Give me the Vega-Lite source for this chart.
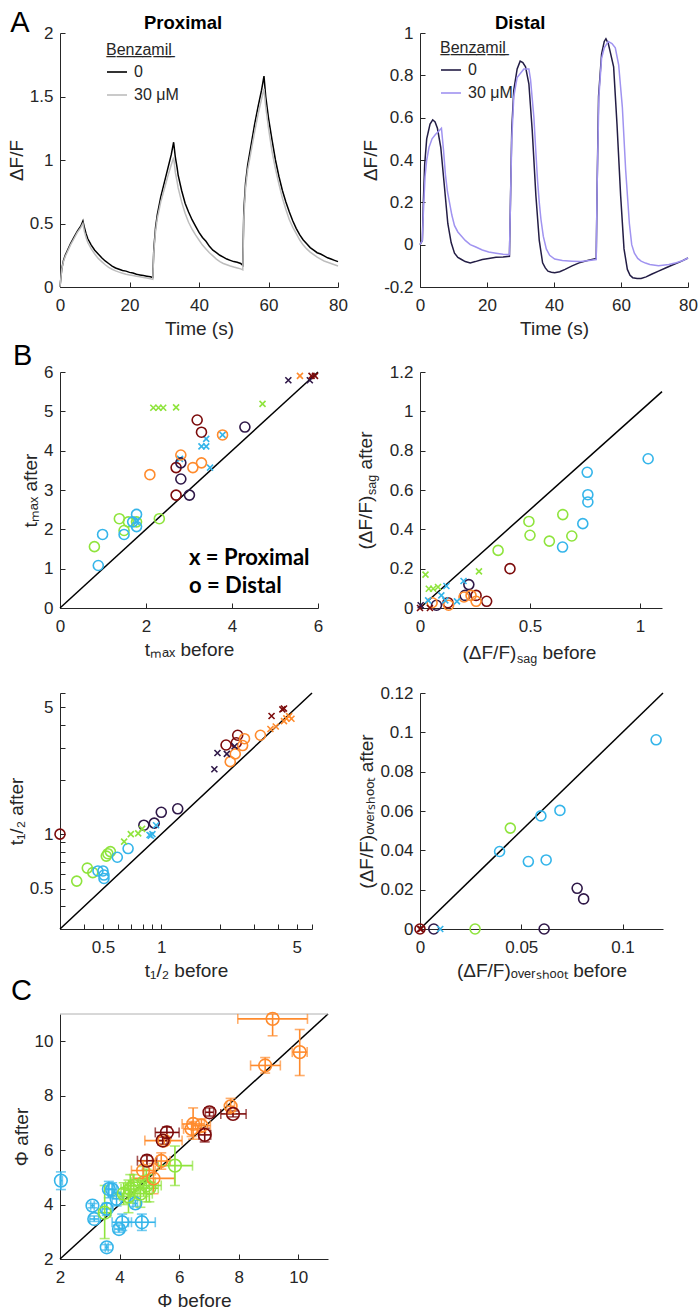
{
"$schema": "https://vega.github.io/schema/vega-lite/v6.json",
"padding": {"left": 7, "top": 8, "right": 0, "bottom": 0},
"title": {"text": "A", "anchor": "start", "frame": "bounds", "fontSize": 29, "fontWeight": "normal", "offset": -24, "dx": 3, "color": "#000000"},
"columns": 2,
"bounds": "flush",
"align": "each",
"spacing": {"row": 85, "column": 82},
"resolve": {"scale": {"color": "independent", "shape": "independent"}},
"config": {
  "font": "Liberation Sans",
  "view": {"stroke": null},
  "axis": {"grid": false, "domainColor": "#262626", "domainWidth": 1, "tickColor": "#262626", "tickSize": -5, "tickWidth": 1,
    "labelColor": "#262626", "labelFontSize": 17, "labelFont": "Liberation Sans", "titleColor": "#262626", "titleFontSize": 19,
    "titleFontWeight": "normal", "titleFont": "Liberation Sans", "labelFlush": false, "labelOverlap": false, "labelBound": false},
  "axisX": {"labelPadding": 15, "titlePadding": 6},
  "axisY": {"labelPadding": 12, "titlePadding": 3},
  "legend": {"labelFont": "Liberation Sans", "titleFont": "Liberation Sans"},
  "title": {"font": "Liberation Sans", "fontSize": 18.5, "fontWeight": "bold", "color": "#000000"}
},
"datasets": {
  "prox": [
    {"t":0,"v":0,"c":"0"},{"t":0.5,"v":0.14,"c":"0"},{"t":1,"v":0.21,"c":"0"},{"t":1.5,"v":0.25,"c":"0"},{"t":2,"v":0.28,"c":"0"},{"t":3,"v":0.34,"c":"0"},{"t":4,"v":0.39,"c":"0"},{"t":5,"v":0.44,"c":"0"},{"t":6,"v":0.48,"c":"0"},{"t":6.6,"v":0.52,"c":"0"},{"t":7,"v":0.47,"c":"0"},{"t":7.5,"v":0.42,"c":"0"},{"t":8,"v":0.38,"c":"0"},{"t":9,"v":0.33,"c":"0"},{"t":10,"v":0.29,"c":"0"},{"t":11,"v":0.26,"c":"0"},{"t":12,"v":0.23,"c":"0"},{"t":13,"v":0.205,"c":"0"},{"t":14,"v":0.185,"c":"0"},{"t":15,"v":0.165,"c":"0"},{"t":16,"v":0.15,"c":"0"},{"t":17,"v":0.14,"c":"0"},{"t":18,"v":0.13,"c":"0"},{"t":19,"v":0.125,"c":"0"},{"t":20,"v":0.115,"c":"0"},{"t":21,"v":0.11,"c":"0"},{"t":22,"v":0.1,"c":"0"},{"t":23,"v":0.095,"c":"0"},{"t":24,"v":0.09,"c":"0"},{"t":25,"v":0.085,"c":"0"},{"t":26,"v":0.08,"c":"0"},{"t":26.7,"v":0.075,"c":"0"},{"t":27,"v":0.3,"c":"0"},{"t":27.5,"v":0.47,"c":"0"},{"t":28,"v":0.57,"c":"0"},{"t":29,"v":0.71,"c":"0"},{"t":30,"v":0.82,"c":"0"},{"t":31,"v":0.93,"c":"0"},{"t":32,"v":1.04,"c":"0"},{"t":32.7,"v":1.14,"c":"0"},{"t":33.2,"v":1.02,"c":"0"},{"t":33.7,"v":0.94,"c":"0"},{"t":34,"v":0.88,"c":"0"},{"t":35,"v":0.76,"c":"0"},{"t":36,"v":0.66,"c":"0"},{"t":37,"v":0.59,"c":"0"},{"t":38,"v":0.53,"c":"0"},{"t":39,"v":0.48,"c":"0"},{"t":40,"v":0.43,"c":"0"},{"t":41,"v":0.39,"c":"0"},{"t":42,"v":0.36,"c":"0"},{"t":43,"v":0.32,"c":"0"},{"t":44,"v":0.29,"c":"0"},{"t":45,"v":0.27,"c":"0"},{"t":46,"v":0.25,"c":"0"},{"t":47,"v":0.235,"c":"0"},{"t":48,"v":0.22,"c":"0"},{"t":49,"v":0.21,"c":"0"},{"t":50,"v":0.2,"c":"0"},{"t":51,"v":0.195,"c":"0"},{"t":52,"v":0.185,"c":"0"},{"t":52.6,"v":0.17,"c":"0"},{"t":52.9,"v":0.6,"c":"0"},{"t":53.4,"v":0.82,"c":"0"},{"t":54,"v":0.96,"c":"0"},{"t":55,"v":1.12,"c":"0"},{"t":56,"v":1.28,"c":"0"},{"t":57,"v":1.42,"c":"0"},{"t":58,"v":1.55,"c":"0"},{"t":58.7,"v":1.66,"c":"0"},{"t":59.2,"v":1.5,"c":"0"},{"t":60,"v":1.33,"c":"0"},{"t":61,"v":1.16,"c":"0"},{"t":62,"v":1.0,"c":"0"},{"t":63,"v":0.87,"c":"0"},{"t":64,"v":0.76,"c":"0"},{"t":65,"v":0.67,"c":"0"},{"t":66,"v":0.59,"c":"0"},{"t":67,"v":0.52,"c":"0"},{"t":68,"v":0.46,"c":"0"},{"t":69,"v":0.41,"c":"0"},{"t":70,"v":0.37,"c":"0"},{"t":71,"v":0.34,"c":"0"},{"t":72,"v":0.31,"c":"0"},{"t":73,"v":0.29,"c":"0"},{"t":74,"v":0.27,"c":"0"},{"t":75,"v":0.26,"c":"0"},{"t":76,"v":0.245,"c":"0"},{"t":77,"v":0.23,"c":"0"},{"t":78,"v":0.22,"c":"0"},{"t":79,"v":0.21,"c":"0"},{"t":80,"v":0.2,"c":"0"},
    {"t":0,"v":0,"c":"30 μM"},{"t":0.5,"v":0.14,"c":"30 μM"},{"t":1,"v":0.2,"c":"30 μM"},{"t":1.5,"v":0.24,"c":"30 μM"},{"t":2,"v":0.27,"c":"30 μM"},{"t":3,"v":0.33,"c":"30 μM"},{"t":4,"v":0.38,"c":"30 μM"},{"t":5,"v":0.43,"c":"30 μM"},{"t":6,"v":0.47,"c":"30 μM"},{"t":6.6,"v":0.5,"c":"30 μM"},{"t":7,"v":0.44,"c":"30 μM"},{"t":7.5,"v":0.39,"c":"30 μM"},{"t":8,"v":0.35,"c":"30 μM"},{"t":9,"v":0.3,"c":"30 μM"},{"t":10,"v":0.26,"c":"30 μM"},{"t":11,"v":0.225,"c":"30 μM"},{"t":12,"v":0.2,"c":"30 μM"},{"t":13,"v":0.175,"c":"30 μM"},{"t":14,"v":0.155,"c":"30 μM"},{"t":15,"v":0.14,"c":"30 μM"},{"t":16,"v":0.127,"c":"30 μM"},{"t":17,"v":0.117,"c":"30 μM"},{"t":18,"v":0.108,"c":"30 μM"},{"t":19,"v":0.1,"c":"30 μM"},{"t":20,"v":0.095,"c":"30 μM"},{"t":21,"v":0.09,"c":"30 μM"},{"t":22,"v":0.085,"c":"30 μM"},{"t":23,"v":0.08,"c":"30 μM"},{"t":24,"v":0.075,"c":"30 μM"},{"t":25,"v":0.07,"c":"30 μM"},{"t":26,"v":0.065,"c":"30 μM"},{"t":26.7,"v":0.06,"c":"30 μM"},{"t":27,"v":0.28,"c":"30 μM"},{"t":27.5,"v":0.44,"c":"30 μM"},{"t":28,"v":0.54,"c":"30 μM"},{"t":29,"v":0.67,"c":"30 μM"},{"t":30,"v":0.77,"c":"30 μM"},{"t":31,"v":0.87,"c":"30 μM"},{"t":32,"v":0.96,"c":"30 μM"},{"t":32.7,"v":1.02,"c":"30 μM"},{"t":33.2,"v":0.9,"c":"30 μM"},{"t":33.7,"v":0.83,"c":"30 μM"},{"t":34,"v":0.78,"c":"30 μM"},{"t":35,"v":0.67,"c":"30 μM"},{"t":36,"v":0.58,"c":"30 μM"},{"t":37,"v":0.51,"c":"30 μM"},{"t":38,"v":0.455,"c":"30 μM"},{"t":39,"v":0.41,"c":"30 μM"},{"t":40,"v":0.37,"c":"30 μM"},{"t":41,"v":0.33,"c":"30 μM"},{"t":42,"v":0.3,"c":"30 μM"},{"t":43,"v":0.27,"c":"30 μM"},{"t":44,"v":0.245,"c":"30 μM"},{"t":45,"v":0.22,"c":"30 μM"},{"t":46,"v":0.2,"c":"30 μM"},{"t":47,"v":0.185,"c":"30 μM"},{"t":48,"v":0.175,"c":"30 μM"},{"t":49,"v":0.165,"c":"30 μM"},{"t":50,"v":0.157,"c":"30 μM"},{"t":51,"v":0.15,"c":"30 μM"},{"t":52,"v":0.143,"c":"30 μM"},{"t":52.6,"v":0.135,"c":"30 μM"},{"t":52.9,"v":0.55,"c":"30 μM"},{"t":53.4,"v":0.78,"c":"30 μM"},{"t":54,"v":0.92,"c":"30 μM"},{"t":55,"v":1.07,"c":"30 μM"},{"t":56,"v":1.22,"c":"30 μM"},{"t":57,"v":1.36,"c":"30 μM"},{"t":58,"v":1.48,"c":"30 μM"},{"t":58.7,"v":1.56,"c":"30 μM"},{"t":59.2,"v":1.42,"c":"30 μM"},{"t":60,"v":1.25,"c":"30 μM"},{"t":61,"v":1.07,"c":"30 μM"},{"t":62,"v":0.93,"c":"30 μM"},{"t":63,"v":0.81,"c":"30 μM"},{"t":64,"v":0.7,"c":"30 μM"},{"t":65,"v":0.61,"c":"30 μM"},{"t":66,"v":0.53,"c":"30 μM"},{"t":67,"v":0.47,"c":"30 μM"},{"t":68,"v":0.42,"c":"30 μM"},{"t":69,"v":0.37,"c":"30 μM"},{"t":70,"v":0.33,"c":"30 μM"},{"t":71,"v":0.3,"c":"30 μM"},{"t":72,"v":0.275,"c":"30 μM"},{"t":73,"v":0.255,"c":"30 μM"},{"t":74,"v":0.235,"c":"30 μM"},{"t":75,"v":0.22,"c":"30 μM"},{"t":76,"v":0.205,"c":"30 μM"},{"t":77,"v":0.195,"c":"30 μM"},{"t":78,"v":0.185,"c":"30 μM"},{"t":79,"v":0.175,"c":"30 μM"},{"t":80,"v":0.165,"c":"30 μM"}
  ],
  "dist": [
    {"t":0,"v":0,"c":"0"},{"t":0.7,"v":0.02,"c":"0"},{"t":1,"v":0.2,"c":"0"},{"t":1.4,"v":0.38,"c":"0"},{"t":2,"v":0.5,"c":"0"},{"t":3,"v":0.57,"c":"0"},{"t":3.8,"v":0.59,"c":"0"},{"t":4.5,"v":0.58,"c":"0"},{"t":5.2,"v":0.55,"c":"0"},{"t":6.2,"v":0.46,"c":"0"},{"t":7.2,"v":0.29,"c":"0"},{"t":8.3,"v":0.1,"c":"0"},{"t":9.3,"v":0.01,"c":"0"},{"t":10.3,"v":-0.04,"c":"0"},{"t":11.3,"v":-0.06,"c":"0"},{"t":12.4,"v":-0.07,"c":"0"},{"t":13.5,"v":-0.08,"c":"0"},{"t":15,"v":-0.086,"c":"0"},{"t":16.5,"v":-0.08,"c":"0"},{"t":18.6,"v":-0.07,"c":"0"},{"t":20.5,"v":-0.065,"c":"0"},{"t":22.7,"v":-0.06,"c":"0"},{"t":24.8,"v":-0.058,"c":"0"},{"t":26.7,"v":-0.055,"c":"0"},{"t":27,"v":0.2,"c":"0"},{"t":27.4,"v":0.55,"c":"0"},{"t":28,"v":0.73,"c":"0"},{"t":29,"v":0.83,"c":"0"},{"t":29.9,"v":0.867,"c":"0"},{"t":30.7,"v":0.86,"c":"0"},{"t":31.5,"v":0.84,"c":"0"},{"t":32.5,"v":0.76,"c":"0"},{"t":33.5,"v":0.54,"c":"0"},{"t":34.6,"v":0.23,"c":"0"},{"t":35.6,"v":0.02,"c":"0"},{"t":36.6,"v":-0.086,"c":"0"},{"t":37.4,"v":-0.11,"c":"0"},{"t":38.2,"v":-0.125,"c":"0"},{"t":39.2,"v":-0.13,"c":"0"},{"t":40.2,"v":-0.133,"c":"0"},{"t":41.7,"v":-0.128,"c":"0"},{"t":43.3,"v":-0.117,"c":"0"},{"t":45.4,"v":-0.1,"c":"0"},{"t":47.5,"v":-0.086,"c":"0"},{"t":50,"v":-0.075,"c":"0"},{"t":52.6,"v":-0.065,"c":"0"},{"t":52.9,"v":0.3,"c":"0"},{"t":53.3,"v":0.7,"c":"0"},{"t":54.2,"v":0.9,"c":"0"},{"t":55,"v":0.96,"c":"0"},{"t":55.5,"v":0.973,"c":"0"},{"t":56.2,"v":0.95,"c":"0"},{"t":56.8,"v":0.91,"c":"0"},{"t":57.8,"v":0.84,"c":"0"},{"t":58.8,"v":0.57,"c":"0"},{"t":59.9,"v":0.23,"c":"0"},{"t":60.9,"v":-0.02,"c":"0"},{"t":61.9,"v":-0.117,"c":"0"},{"t":62.7,"v":-0.145,"c":"0"},{"t":63.5,"v":-0.156,"c":"0"},{"t":64.8,"v":-0.16,"c":"0"},{"t":66,"v":-0.16,"c":"0"},{"t":67.5,"v":-0.152,"c":"0"},{"t":69.1,"v":-0.14,"c":"0"},{"t":71.2,"v":-0.125,"c":"0"},{"t":73.3,"v":-0.11,"c":"0"},{"t":75.5,"v":-0.095,"c":"0"},{"t":77.8,"v":-0.08,"c":"0"},{"t":80,"v":-0.063,"c":"0"},
    {"t":0,"v":0,"c":"30 μM"},{"t":0.7,"v":0.02,"c":"30 μM"},{"t":1,"v":0.15,"c":"30 μM"},{"t":1.5,"v":0.32,"c":"30 μM"},{"t":2,"v":0.4,"c":"30 μM"},{"t":2.7,"v":0.46,"c":"30 μM"},{"t":3.6,"v":0.5,"c":"30 μM"},{"t":4.6,"v":0.52,"c":"30 μM"},{"t":5.5,"v":0.535,"c":"30 μM"},{"t":6.4,"v":0.55,"c":"30 μM"},{"t":7,"v":0.45,"c":"30 μM"},{"t":7.6,"v":0.33,"c":"30 μM"},{"t":8.2,"v":0.25,"c":"30 μM"},{"t":8.8,"v":0.2,"c":"30 μM"},{"t":9.5,"v":0.14,"c":"30 μM"},{"t":10.3,"v":0.09,"c":"30 μM"},{"t":11.3,"v":0.06,"c":"30 μM"},{"t":12.4,"v":0.04,"c":"30 μM"},{"t":13.5,"v":0.02,"c":"30 μM"},{"t":15,"v":0.0,"c":"30 μM"},{"t":16.5,"v":-0.01,"c":"30 μM"},{"t":18.6,"v":-0.025,"c":"30 μM"},{"t":20.5,"v":-0.035,"c":"30 μM"},{"t":22.7,"v":-0.04,"c":"30 μM"},{"t":24.8,"v":-0.045,"c":"30 μM"},{"t":26.7,"v":-0.047,"c":"30 μM"},{"t":27,"v":0.2,"c":"30 μM"},{"t":27.4,"v":0.5,"c":"30 μM"},{"t":28,"v":0.7,"c":"30 μM"},{"t":29,"v":0.79,"c":"30 μM"},{"t":30,"v":0.81,"c":"30 μM"},{"t":31,"v":0.83,"c":"30 μM"},{"t":32.5,"v":0.83,"c":"30 μM"},{"t":33,"v":0.78,"c":"30 μM"},{"t":34,"v":0.6,"c":"30 μM"},{"t":34.5,"v":0.46,"c":"30 μM"},{"t":35.1,"v":0.3,"c":"30 μM"},{"t":35.6,"v":0.2,"c":"30 μM"},{"t":36.1,"v":0.12,"c":"30 μM"},{"t":36.8,"v":0.04,"c":"30 μM"},{"t":37.7,"v":-0.02,"c":"30 μM"},{"t":38.7,"v":-0.05,"c":"30 μM"},{"t":40.2,"v":-0.068,"c":"30 μM"},{"t":42.5,"v":-0.075,"c":"30 μM"},{"t":45.4,"v":-0.078,"c":"30 μM"},{"t":48,"v":-0.08,"c":"30 μM"},{"t":50.5,"v":-0.075,"c":"30 μM"},{"t":52.6,"v":-0.07,"c":"30 μM"},{"t":52.9,"v":0.3,"c":"30 μM"},{"t":53.4,"v":0.7,"c":"30 μM"},{"t":54.2,"v":0.88,"c":"30 μM"},{"t":55,"v":0.93,"c":"30 μM"},{"t":56.2,"v":0.96,"c":"30 μM"},{"t":57.3,"v":0.95,"c":"30 μM"},{"t":58.3,"v":0.93,"c":"30 μM"},{"t":59.3,"v":0.85,"c":"30 μM"},{"t":60.4,"v":0.65,"c":"30 μM"},{"t":61.4,"v":0.35,"c":"30 μM"},{"t":62.5,"v":0.1,"c":"30 μM"},{"t":63.2,"v":0.0,"c":"30 μM"},{"t":64,"v":-0.04,"c":"30 μM"},{"t":65,"v":-0.065,"c":"30 μM"},{"t":66,"v":-0.078,"c":"30 μM"},{"t":67.3,"v":-0.087,"c":"30 μM"},{"t":68.6,"v":-0.094,"c":"30 μM"},{"t":71.2,"v":-0.1,"c":"30 μM"},{"t":74.3,"v":-0.094,"c":"30 μM"},{"t":76.5,"v":-0.085,"c":"30 μM"},{"t":78.5,"v":-0.075,"c":"30 μM"},{"t":80,"v":-0.063,"c":"30 μM"}
  ],
  "tmax": [
    {"r":"Proximal","k":"c1","b":2.17,"a":5.09},{"r":"Proximal","k":"c1","b":2.29,"a":5.09},{"r":"Proximal","k":"c1","b":2.4,"a":5.09},{"r":"Proximal","k":"c1","b":2.7,"a":5.1},{"r":"Proximal","k":"c1","b":4.71,"a":5.19},
    {"r":"Proximal","k":"c5","b":5.31,"a":5.79},{"r":"Proximal","k":"c5","b":5.81,"a":5.79},{"r":"Proximal","k":"c3","b":5.58,"a":5.9},{"r":"Proximal","k":"c4","b":5.85,"a":5.9},{"r":"Proximal","k":"c4","b":5.93,"a":5.9},
    {"r":"Proximal","k":"c2","b":2.79,"a":3.79},{"r":"Proximal","k":"c2","b":3.29,"a":4.11},{"r":"Proximal","k":"c2","b":3.4,"a":4.11},{"r":"Proximal","k":"c2","b":3.4,"a":4.3},{"r":"Proximal","k":"c2","b":3.49,"a":3.57},{"r":"Proximal","k":"c2","b":3.78,"a":4.4},{"r":"Proximal","k":"c2","b":1.78,"a":2.19},
    {"r":"Distal","k":"c4","b":3.19,"a":4.78},{"r":"Distal","k":"c4","b":3.29,"a":4.47},{"r":"Distal","k":"c4","b":2.7,"a":3.57},{"r":"Distal","k":"c4","b":2.7,"a":2.87},
    {"r":"Distal","k":"c5","b":2.81,"a":3.69},{"r":"Distal","k":"c5","b":2.81,"a":3.28},{"r":"Distal","k":"c5","b":3.01,"a":2.87},{"r":"Distal","k":"c5","b":4.3,"a":4.6},
    {"r":"Distal","k":"c3","b":2.09,"a":3.39},{"r":"Distal","k":"c3","b":2.81,"a":3.89},{"r":"Distal","k":"c3","b":3.09,"a":3.57},{"r":"Distal","k":"c3","b":3.29,"a":3.69},{"r":"Distal","k":"c3","b":3.78,"a":4.4},
    {"r":"Distal","k":"c1","b":0.8,"a":1.56},{"r":"Distal","k":"c1","b":1.38,"a":2.27},{"r":"Distal","k":"c1","b":1.49,"a":1.97},{"r":"Distal","k":"c1","b":1.59,"a":2.19},{"r":"Distal","k":"c1","b":1.78,"a":2.19},{"r":"Distal","k":"c1","b":2.31,"a":2.27},
    {"r":"Distal","k":"c2","b":0.89,"a":1.08},{"r":"Distal","k":"c2","b":0.99,"a":1.87},{"r":"Distal","k":"c2","b":1.49,"a":1.87},{"r":"Distal","k":"c2","b":1.69,"a":2.19},{"r":"Distal","k":"c2","b":1.78,"a":2.38},{"r":"Distal","k":"c2","b":1.78,"a":2.07}
  ],
  "sag": [
    {"r":"Distal","k":"c2","b":1.037,"a":0.759},{"r":"Distal","k":"c2","b":0.76,"a":0.69},{"r":"Distal","k":"c2","b":0.763,"a":0.576},{"r":"Distal","k":"c2","b":0.763,"a":0.539},{"r":"Distal","k":"c2","b":0.74,"a":0.429},{"r":"Distal","k":"c2","b":0.648,"a":0.31},
    {"r":"Distal","k":"c1","b":0.495,"a":0.44},{"r":"Distal","k":"c1","b":0.5,"a":0.37},{"r":"Distal","k":"c1","b":0.588,"a":0.34},{"r":"Distal","k":"c1","b":0.649,"a":0.475},{"r":"Distal","k":"c1","b":0.69,"a":0.366},{"r":"Distal","k":"c1","b":0.355,"a":0.293},
    {"r":"Distal","k":"c4","b":0.409,"a":0.2},{"r":"Distal","k":"c4","b":0.303,"a":0.034},{"r":"Distal","k":"c4","b":0.255,"a":0.064},{"r":"Distal","k":"c4","b":0.127,"a":0.027},
    {"r":"Distal","k":"c5","b":0.222,"a":0.119},{"r":"Distal","k":"c5","b":0.205,"a":0.064},{"r":"Distal","k":"c5","b":0.075,"a":0.014},
    {"r":"Distal","k":"c3","b":0.255,"a":0.034},{"r":"Distal","k":"c3","b":0.232,"a":0.064},{"r":"Distal","k":"c3","b":0.2,"a":0.056},{"r":"Distal","k":"c3","b":0.13,"a":0.014},{"r":"Distal","k":"c3","b":0.055,"a":0.027},
    {"r":"Proximal","k":"c1","b":0.025,"a":0.17},{"r":"Proximal","k":"c1","b":0.04,"a":0.098},{"r":"Proximal","k":"c1","b":0.06,"a":0.098},{"r":"Proximal","k":"c1","b":0.082,"a":0.107},{"r":"Proximal","k":"c1","b":0.268,"a":0.186},
    {"r":"Proximal","k":"c2","b":0.12,"a":0.112},{"r":"Proximal","k":"c2","b":0.198,"a":0.137},{"r":"Proximal","k":"c2","b":0.097,"a":0.064},{"r":"Proximal","k":"c2","b":0.168,"a":0.034},{"r":"Proximal","k":"c2","b":0.037,"a":0.039},{"r":"Proximal","k":"c2","b":0.115,"a":0.039},
    {"r":"Proximal","k":"c4","b":0,"a":0},{"r":"Proximal","k":"c4","b":0.045,"a":0},{"r":"Proximal","k":"c5","b":0.003,"a":0.014}
  ],
  "thalf": [
    {"r":"Distal","k":"c4","b":0.3,"a":1.0},{"r":"Distal","k":"c4","b":2.16,"a":3.1},{"r":"Distal","k":"c4","b":2.44,"a":3.19},{"r":"Distal","k":"c4","b":2.48,"a":3.51},
    {"r":"Distal","k":"c1","b":0.366,"a":0.551},{"r":"Distal","k":"c1","b":0.415,"a":0.65},{"r":"Distal","k":"c1","b":0.443,"a":0.614},{"r":"Distal","k":"c1","b":0.52,"a":0.757},{"r":"Distal","k":"c1","b":0.546,"a":0.801},{"r":"Distal","k":"c1","b":0.53,"a":0.78},
    {"r":"Distal","k":"c2","b":0.471,"a":0.627},{"r":"Distal","k":"c2","b":0.5,"a":0.627},{"r":"Distal","k":"c2","b":0.506,"a":0.595},{"r":"Distal","k":"c2","b":0.506,"a":0.57},{"r":"Distal","k":"c2","b":0.593,"a":0.746},{"r":"Distal","k":"c2","b":0.674,"a":0.833},
    {"r":"Distal","k":"c5","b":0.813,"a":1.12},{"r":"Distal","k":"c5","b":0.92,"a":1.15},{"r":"Distal","k":"c5","b":1.0,"a":1.32},{"r":"Distal","k":"c5","b":1.216,"a":1.38},
    {"r":"Distal","k":"c3","b":2.27,"a":2.51},{"r":"Distal","k":"c3","b":2.41,"a":2.77},{"r":"Distal","k":"c3","b":2.63,"a":3.08},{"r":"Distal","k":"c3","b":2.69,"a":3.36},{"r":"Distal","k":"c3","b":3.25,"a":3.51},
    {"r":"Proximal","k":"c1","b":0.643,"a":0.909},{"r":"Proximal","k":"c1","b":0.696,"a":1.0},{"r":"Proximal","k":"c1","b":0.76,"a":1.01},{"r":"Proximal","k":"c1","b":0.796,"a":1.07},
    {"r":"Proximal","k":"c2","b":0.883,"a":0.98},{"r":"Proximal","k":"c2","b":0.9,"a":1.0},{"r":"Proximal","k":"c2","b":0.94,"a":1.12},{"r":"Proximal","k":"c2","b":0.87,"a":0.99},
    {"r":"Proximal","k":"c5","b":1.88,"a":2.28},{"r":"Proximal","k":"c5","b":1.95,"a":2.8},{"r":"Proximal","k":"c5","b":2.18,"a":2.77},{"r":"Proximal","k":"c5","b":2.39,"a":3.05},
    {"r":"Proximal","k":"c4","b":3.71,"a":4.48},{"r":"Proximal","k":"c4","b":4.22,"a":4.87},{"r":"Proximal","k":"c4","b":4.3,"a":4.93},
    {"r":"Proximal","k":"c3","b":3.66,"a":3.8},{"r":"Proximal","k":"c3","b":3.9,"a":3.92},{"r":"Proximal","k":"c3","b":4.3,"a":4.2},{"r":"Proximal","k":"c3","b":4.42,"a":4.35},{"r":"Proximal","k":"c3","b":4.57,"a":4.47},{"r":"Proximal","k":"c3","b":4.7,"a":4.33}
  ],
  "over": [
    {"r":"Distal","k":"c2","b":0.1166,"a":0.0962},{"r":"Distal","k":"c2","b":0.0691,"a":0.0603},{"r":"Distal","k":"c2","b":0.0597,"a":0.0575},{"r":"Distal","k":"c2","b":0.0393,"a":0.0394},{"r":"Distal","k":"c2","b":0.0535,"a":0.0343},{"r":"Distal","k":"c2","b":0.0623,"a":0.0351},
    {"r":"Distal","k":"c1","b":0.0446,"a":0.0513},{"r":"Distal","k":"c1","b":0.0272,"a":0},
    {"r":"Distal","k":"c5","b":0.0776,"a":0.0207},{"r":"Distal","k":"c5","b":0.0808,"a":0.0153},{"r":"Distal","k":"c5","b":0.0613,"a":0},{"r":"Distal","k":"c5","b":0.0068,"a":0},
    {"r":"Proximal","k":"c2","b":0.01,"a":0},
    {"r":"Distal","k":"c4","b":0,"a":0},{"r":"Proximal","k":"c4","b":0,"a":0},{"r":"Proximal","k":"c4","b":0.0005,"a":0}
  ],
  "phi": [
    {"k":"c2","x":2.03,"y":4.88,"xlo":2.0,"xhi":2.08,"ylo":4.55,"yhi":5.2},
    {"k":"c2","x":3.09,"y":3.96,"xlo":3.03,"xhi":3.15,"ylo":3.88,"yhi":4.04},
    {"k":"c2","x":3.15,"y":3.47,"xlo":3.0,"xhi":3.3,"ylo":3.38,"yhi":3.58},
    {"k":"c2","x":3.57,"y":3.84,"xlo":3.42,"xhi":3.72,"ylo":3.6,"yhi":4.05},
    {"k":"c2","x":3.64,"y":4.57,"xlo":3.5,"xhi":3.8,"ylo":4.25,"yhi":4.85},
    {"k":"c2","x":3.9,"y":4.21,"xlo":3.75,"xhi":4.05,"ylo":3.95,"yhi":4.45},
    {"k":"c2","x":4.53,"y":4.04,"xlo":4.45,"xhi":4.6,"ylo":3.93,"yhi":4.16},
    {"k":"c2","x":4.09,"y":3.35,"xlo":3.75,"xhi":4.4,"ylo":3.05,"yhi":3.65},
    {"k":"c2","x":3.98,"y":3.1,"xlo":3.83,"xhi":4.13,"ylo":2.98,"yhi":3.25},
    {"k":"c2","x":4.75,"y":3.35,"xlo":4.3,"xhi":5.2,"ylo":3.05,"yhi":3.65},
    {"k":"c2","x":3.57,"y":2.43,"xlo":3.52,"xhi":3.62,"ylo":2.33,"yhi":2.53},
    {"k":"c2","x":3.75,"y":4.55,"xlo":3.6,"xhi":3.9,"ylo":4.3,"yhi":4.8},
    {"k":"c1","x":5.86,"y":5.43,"xlo":5.3,"xhi":6.45,"ylo":4.7,"yhi":6.15},
    {"k":"c1","x":4.36,"y":4.57,"xlo":4.05,"xhi":4.65,"ylo":4.05,"yhi":5.1},
    {"k":"c1","x":4.7,"y":4.4,"xlo":4.3,"xhi":5.1,"ylo":3.9,"yhi":4.9},
    {"k":"c1","x":4.14,"y":4.4,"xlo":3.8,"xhi":4.5,"ylo":4.0,"yhi":4.8},
    {"k":"c1","x":4.48,"y":4.69,"xlo":4.2,"xhi":4.8,"ylo":4.3,"yhi":5.1},
    {"k":"c1","x":4.81,"y":4.82,"xlo":4.4,"xhi":5.2,"ylo":4.3,"yhi":5.4},
    {"k":"c1","x":3.5,"y":3.7,"xlo":3.3,"xhi":3.7,"ylo":2.75,"yhi":4.7},
    {"k":"c1","x":5.0,"y":4.6,"xlo":4.7,"xhi":5.3,"ylo":4.1,"yhi":5.1},
    {"k":"c1","x":4.3,"y":4.3,"xlo":4.0,"xhi":4.6,"ylo":3.7,"yhi":4.9},
    {"k":"c1","x":4.9,"y":4.7,"xlo":4.4,"xhi":5.4,"ylo":4.1,"yhi":5.3},
    {"k":"c3","x":9.14,"y":10.82,"xlo":7.97,"xhi":10.31,"ylo":10.2,"yhi":11.0},
    {"k":"c3","x":10.05,"y":9.6,"xlo":9.8,"xhi":10.3,"ylo":8.74,"yhi":10.43},
    {"k":"c3","x":8.89,"y":9.11,"xlo":8.4,"xhi":9.4,"ylo":8.83,"yhi":9.4},
    {"k":"c3","x":7.73,"y":7.61,"xlo":7.6,"xhi":7.86,"ylo":7.35,"yhi":7.9},
    {"k":"c3","x":6.47,"y":6.96,"xlo":6.1,"xhi":6.85,"ylo":6.4,"yhi":7.55},
    {"k":"c3","x":6.42,"y":6.78,"xlo":6.15,"xhi":6.7,"ylo":6.5,"yhi":7.05},
    {"k":"c3","x":6.75,"y":6.9,"xlo":6.45,"xhi":7.05,"ylo":6.65,"yhi":7.15},
    {"k":"c3","x":5.5,"y":6.35,"xlo":4.85,"xhi":6.1,"ylo":6.2,"yhi":6.5},
    {"k":"c3","x":5.4,"y":5.6,"xlo":5.1,"xhi":5.7,"ylo":5.3,"yhi":5.9},
    {"k":"c3","x":5.14,"y":4.96,"xlo":4.45,"xhi":5.85,"ylo":4.4,"yhi":5.5},
    {"k":"c3","x":4.79,"y":5.25,"xlo":4.4,"xhi":5.2,"ylo":4.9,"yhi":5.6},
    {"k":"c4","x":7.02,"y":7.39,"xlo":6.88,"xhi":7.16,"ylo":7.25,"yhi":7.55},
    {"k":"c4","x":6.86,"y":6.56,"xlo":6.66,"xhi":7.06,"ylo":6.3,"yhi":6.8},
    {"k":"c4","x":5.59,"y":6.65,"xlo":5.2,"xhi":6.0,"ylo":6.45,"yhi":6.85},
    {"k":"c4","x":5.45,"y":6.35,"xlo":5.3,"xhi":5.6,"ylo":6.22,"yhi":6.48},
    {"k":"c4","x":4.92,"y":5.61,"xlo":4.6,"xhi":5.25,"ylo":5.42,"yhi":5.8},
    {"k":"c4","x":7.81,"y":7.33,"xlo":7.4,"xhi":8.25,"ylo":7.22,"yhi":7.44}
  ]
},
"concat": [
  {
    "width": 278, "height": 254,
    "title": {"text": "Proximal", "anchor": "start", "frame": "group", "dx": 84, "offset": -8},
    "data": {"name": "prox"},
    "mark": {"type": "line", "strokeWidth": 1.5},
    "encoding": {
      "x": {"field": "t", "type": "quantitative", "scale": {"domain": [0, 80], "nice": false}, "axis": {"title": "Time (s)", "values": [0, 20, 40, 60, 80], "labelExpr": "'' + datum.value"}},
      "y": {"field": "v", "type": "quantitative", "scale": {"domain": [0, 2], "nice": false}, "axis": {"title": "ΔF/F", "values": [0, 0.5, 1, 1.5, 2], "labelExpr": "'' + datum.value"}},
      "color": {"field": "c", "type": "nominal", "scale": {"domain": ["0", "30 μM"], "range": ["#000000", "#bdbdbd"]},
        "legend": {"title": "B\u0332e\u0332n\u0332z\u0332a\u0332m\u0332i\u0332l\u0332", "orient": "none", "legendX": 46, "legendY": 9, "symbolType": "stroke", "symbolSize": 400, "symbolStrokeWidth": 1.6, "labelFontSize": 16, "titleFontSize": 16, "titleFontWeight": "normal", "titleColor": "#262626", "labelColor": "#262626", "titlePadding": 3, "rowPadding": 4, "labelOffset": 6, "padding": 0}}
    }
  },
  {
    "width": 268, "height": 254,
    "title": {"text": "Distal", "anchor": "start", "frame": "group", "dx": 75, "offset": -8},
    "data": {"name": "dist"},
    "mark": {"type": "line", "strokeWidth": 1.5},
    "encoding": {
      "x": {"field": "t", "type": "quantitative", "scale": {"domain": [0, 80], "nice": false}, "axis": {"title": "Time (s)", "values": [0, 20, 40, 60, 80], "labelExpr": "'' + datum.value"}},
      "y": {"field": "v", "type": "quantitative", "scale": {"domain": [-0.2, 1], "nice": false, "zero": false}, "axis": {"title": "ΔF/F", "values": [-0.2, 0, 0.2, 0.4, 0.6, 0.8, 1], "labelExpr": "'' + datum.value"}},
      "color": {"field": "c", "type": "nominal", "scale": {"domain": ["0", "30 μM"], "range": ["#231d45", "#a093f0"]},
        "legend": {"title": "B\u0332e\u0332n\u0332z\u0332a\u0332m\u0332i\u0332l\u0332", "orient": "none", "legendX": 20, "legendY": 7, "symbolType": "stroke", "symbolSize": 400, "symbolStrokeWidth": 1.6, "labelFontSize": 16, "titleFontSize": 16, "titleFontWeight": "normal", "titleColor": "#262626", "labelColor": "#262626", "titlePadding": 3, "rowPadding": 4, "labelOffset": 6, "padding": 0}}
    }
  },
  {
    "width": 258, "height": 236,
    "title": {"text": "B", "anchor": "start", "frame": "group", "dx": -47, "offset": -8, "fontSize": 29, "fontWeight": "normal"},
    "encoding": {
      "x": {"field": "b", "type": "quantitative", "scale": {"domain": [0, 6], "nice": false}, "axis": {"title": "tₘₐₓ before", "values": [0, 2, 4, 6], "labelExpr": "'' + datum.value"}},
      "y": {"field": "a", "type": "quantitative", "scale": {"domain": [0, 6], "nice": false}, "axis": {"title": "tₘₐₓ after", "values": [0, 1, 2, 3, 4, 5, 6], "labelExpr": "'' + datum.value"}}
    },
    "layer": [
      {"data": {"values": [{"b": 0, "a": 0}, {"b": 6, "a": 6}]}, "mark": {"type": "line", "color": "#000000", "strokeWidth": 1.5}, "encoding": {}},
      {"data": {"name": "tmax"}, "mark": {"type": "point", "filled": false, "strokeWidth": 1.6, "opacity": 1, "size": 100},
        "encoding": {
          "color": {"field": "k", "type": "nominal", "scale": {"domain": ["c1", "c2", "c3", "c4", "c5"], "range": ["#8fe43d", "#35b5ea", "#ff8b2d", "#7c0b0b", "#2f1848"]}, "legend": null},
          "shape": {"field": "r", "type": "nominal", "scale": {"domain": ["Proximal", "Distal"], "range": ["M-0.6,-0.6L0.6,0.6M-0.6,0.6L0.6,-0.6", "circle"]},
            "legend": {"orient": "none", "legendX": 107, "legendY": 175, "title": null, "symbolOpacity": 0, "symbolStrokeWidth": 0, "symbolSize": 1, "labelFont": "Lato", "labelFontSize": 22, "labelFontWeight": "bold", "labelColor": "#000000", "labelOffset": 0, "rowPadding": 6, "padding": 0, "labelExpr": "datum.label == 'Proximal' ? 'x = Proximal' : 'o = Distal'"}}
        }}
    ]
  },
  {
    "width": 242, "height": 236,
    "resolve": {"axis": {"x": "independent", "y": "independent"}},
    "layer": [
      {"data": {"values": [{"b": 0, "a": 0}, {"b": 1.1, "a": 1.1}]}, "mark": {"type": "line", "color": "#000000", "strokeWidth": 1.5},
        "encoding": {
          "x": {"field": "b", "type": "quantitative", "scale": {"domain": [0, 1.1], "nice": false}, "axis": null},
          "y": {"field": "a", "type": "quantitative", "scale": {"domain": [0, 1.2], "nice": false}, "axis": null}
        }},
      {"data": {"name": "sag"}, "mark": {"type": "point", "filled": false, "strokeWidth": 1.6, "opacity": 1, "size": 100},
        "encoding": {
          "x": {"field": "b", "type": "quantitative", "axis": {"orient": "bottom", "title": "(ΔF/F)", "titleX": 42, "titleY": 50, "titleAlign": "left", "titleBaseline": "alphabetic", "values": [0, 0.5, 1], "labelExpr": "'' + datum.value"}},
          "y": {"field": "a", "type": "quantitative", "axis": {"orient": "left", "title": "(ΔF/F)", "titleX": -49, "titleY": 177, "titleAlign": "left", "titleAngle": 270, "titleBaseline": "alphabetic", "values": [0, 0.2, 0.4, 0.6, 0.8, 1, 1.2], "labelExpr": "'' + datum.value"}},
          "color": {"field": "k", "type": "nominal", "scale": {"domain": ["c1", "c2", "c3", "c4", "c5"], "range": ["#8fe43d", "#35b5ea", "#ff8b2d", "#7c0b0b", "#2f1848"]}, "legend": null},
          "shape": {"field": "r", "type": "nominal", "scale": {"domain": ["Proximal", "Distal"], "range": ["M-0.6,-0.6L0.6,0.6M-0.6,0.6L0.6,-0.6", "circle"]}, "legend": null}
        }},
      {"data": {"values": [{"b": 0, "a": 0}, {"b": 1.1, "a": 1.1}]}, "mark": {"type": "point", "opacity": 0},
        "encoding": {
          "x": {"field": "b", "type": "quantitative", "axis": {"orient": "bottom", "title": "sag", "titleFontSize": 12.5, "titleX": 96.5, "titleY": 54, "titleAlign": "left", "titleBaseline": "alphabetic", "domain": false, "ticks": false, "labels": false}},
          "y": {"field": "a", "type": "quantitative", "axis": {"orient": "left", "title": "sag", "titleFontSize": 12.5, "titleX": -45, "titleY": 122.5, "titleAlign": "left", "titleAngle": 270, "titleBaseline": "alphabetic", "domain": false, "ticks": false, "labels": false}}
        }},
      {"data": {"values": [{"b": 0, "a": 0}, {"b": 1.1, "a": 1.1}]}, "mark": {"type": "point", "opacity": 0},
        "encoding": {
          "x": {"field": "b", "type": "quantitative", "axis": {"orient": "bottom", "title": "before", "titleX": 122, "titleY": 50, "titleAlign": "left", "titleBaseline": "alphabetic", "domain": false, "ticks": false, "labels": false}},
          "y": {"field": "a", "type": "quantitative", "axis": {"orient": "left", "title": "after", "titleX": -49, "titleY": 97, "titleAlign": "left", "titleAngle": 270, "titleBaseline": "alphabetic", "domain": false, "ticks": false, "labels": false}}
        }}
    ]
  },
  {
    "width": 252, "height": 236,
    "encoding": {
      "x": {"field": "b", "type": "quantitative", "scale": {"type": "log", "domain": [0.3, 6], "nice": false}, "axis": {"title": "t₁/₂ before", "values": [0.3, 0.4, 0.5, 0.6, 0.7, 0.8, 0.9, 1, 2, 3, 4, 5, 6], "labelExpr": "indexof([0.5, 1, 5], datum.value) >= 0 ? '' + datum.value : ''"}},
      "y": {"field": "a", "type": "quantitative", "scale": {"type": "log", "domain": [0.3, 6], "nice": false}, "axis": {"title": "t₁/₂ after", "values": [0.3, 0.4, 0.5, 0.6, 0.7, 0.8, 0.9, 1, 2, 3, 4, 5, 6], "labelExpr": "indexof([0.5, 1, 5], datum.value) >= 0 ? '' + datum.value : ''"}}
    },
    "layer": [
      {"data": {"values": [{"b": 0.3, "a": 0.3}, {"b": 6, "a": 6}]}, "mark": {"type": "line", "color": "#000000", "strokeWidth": 1.5}, "encoding": {}},
      {"data": {"name": "thalf"}, "mark": {"type": "point", "filled": false, "strokeWidth": 1.6, "opacity": 1, "size": 100},
        "encoding": {
          "color": {"field": "k", "type": "nominal", "scale": {"domain": ["c1", "c2", "c3", "c4", "c5"], "range": ["#8fe43d", "#35b5ea", "#ff8b2d", "#7c0b0b", "#2f1848"]}, "legend": null},
          "shape": {"field": "r", "type": "nominal", "scale": {"domain": ["Proximal", "Distal"], "range": ["M-0.6,-0.6L0.6,0.6M-0.6,0.6L0.6,-0.6", "circle"]}, "legend": null}
        }}
    ]
  },
  {
    "width": 243, "height": 236,
    "encoding": {
      "x": {"field": "b", "type": "quantitative", "scale": {"domain": [0, 0.12], "nice": false}, "axis": {"title": "(ΔF/F)ₒᵥₑᵣₛₕₒₒₜ before", "values": [0, 0.05, 0.1], "labelExpr": "'' + datum.value"}},
      "y": {"field": "a", "type": "quantitative", "scale": {"domain": [0, 0.12], "nice": false}, "axis": {"title": "(ΔF/F)ₒᵥₑᵣₛₕₒₒₜ after", "values": [0, 0.02, 0.04, 0.06, 0.08, 0.1, 0.12], "labelExpr": "'' + datum.value"}}
    },
    "layer": [
      {"data": {"values": [{"b": 0, "a": 0}, {"b": 0.12, "a": 0.12}]}, "mark": {"type": "line", "color": "#000000", "strokeWidth": 1.5}, "encoding": {}},
      {"data": {"name": "over"}, "mark": {"type": "point", "filled": false, "strokeWidth": 1.6, "opacity": 1, "size": 100},
        "encoding": {
          "color": {"field": "k", "type": "nominal", "scale": {"domain": ["c1", "c2", "c3", "c4", "c5"], "range": ["#8fe43d", "#35b5ea", "#ff8b2d", "#7c0b0b", "#2f1848"]}, "legend": null},
          "shape": {"field": "r", "type": "nominal", "scale": {"domain": ["Proximal", "Distal"], "range": ["M-0.6,-0.6L0.6,0.6M-0.6,0.6L0.6,-0.6", "circle"]}, "legend": null}
        }}
    ]
  },
  {
    "width": 268, "height": 245,
    "title": {"text": "C", "anchor": "start", "frame": "group", "dx": -49, "offset": 3, "fontSize": 29, "fontWeight": "normal"},
    "layer": [
      {"data": {"values": [{"x": 2, "y": 2}, {"x": 11, "y": 11}]}, "mark": {"type": "line", "color": "#000000", "strokeWidth": 1.5},
        "encoding": {
          "x": {"field": "x", "type": "quantitative", "title": "Φ before", "scale": {"domain": [2, 11], "nice": false, "zero": false}, "axis": {"title": "Φ before", "values": [2, 4, 6, 8, 10], "labelExpr": "'' + datum.value"}},
          "y": {"field": "y", "type": "quantitative", "title": "Φ after", "scale": {"domain": [2, 11], "nice": false, "zero": false}, "axis": {"title": "Φ after", "values": [2, 4, 6, 8, 10], "labelExpr": "'' + datum.value"}}
        }},
      {"data": {"values": [{"x": 2, "x2": 11, "y": 11}]}, "mark": {"type": "rule", "color": "#b0b0b0", "strokeWidth": 1},
        "encoding": {"x": {"field": "x", "type": "quantitative", "title": "Φ before"}, "x2": {"field": "x2"}, "y": {"field": "y", "type": "quantitative", "title": "Φ after"}}},
      {"data": {"name": "phi"}, "mark": {"type": "errorbar", "ticks": {"size": 10}, "thickness": 1.6},
        "encoding": {"x": {"field": "xlo", "type": "quantitative", "title": "Φ before"}, "x2": {"field": "xhi"}, "y": {"field": "y", "type": "quantitative", "title": "Φ after"},
          "color": {"field": "k", "type": "nominal", "scale": {"domain": ["c1", "c2", "c3", "c4"], "range": ["#8fe43d", "#35b5ea", "#ff8b2d", "#7c0b0b"]}, "legend": null}}},
      {"data": {"name": "phi"}, "mark": {"type": "errorbar", "ticks": {"size": 10}, "thickness": 1.6},
        "encoding": {"y": {"field": "ylo", "type": "quantitative", "title": "Φ after"}, "y2": {"field": "yhi"}, "x": {"field": "x", "type": "quantitative", "title": "Φ before"},
          "color": {"field": "k", "type": "nominal", "scale": {"domain": ["c1", "c2", "c3", "c4"], "range": ["#8fe43d", "#35b5ea", "#ff8b2d", "#7c0b0b"]}, "legend": null}}},
      {"data": {"name": "phi"}, "mark": {"type": "point", "filled": false, "strokeWidth": 1.6, "size": 160, "opacity": 1},
        "encoding": {"x": {"field": "x", "type": "quantitative", "title": "Φ before"}, "y": {"field": "y", "type": "quantitative", "title": "Φ after"},
          "color": {"field": "k", "type": "nominal", "scale": {"domain": ["c1", "c2", "c3", "c4"], "range": ["#8fe43d", "#35b5ea", "#ff8b2d", "#7c0b0b"]}, "legend": null}}}
    ]
  }
]
}
